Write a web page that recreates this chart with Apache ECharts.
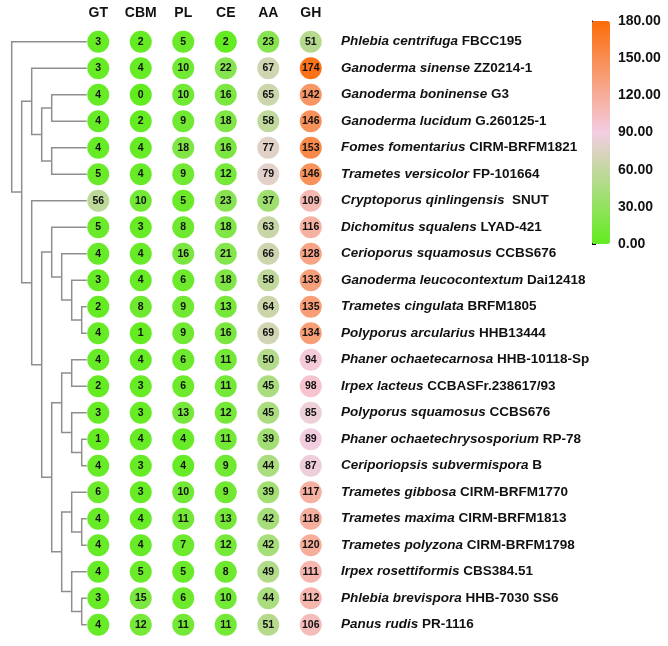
<!DOCTYPE html>
<html><head><meta charset="utf-8">
<script src="https://cdn.jsdelivr.net/npm/echarts@6/dist/echarts.min.js"></script>
<style>html,body{margin:0;padding:0;background:#fff}#c{width:668px;height:646px}</style>
</head><body><div id="c"></div>
<script>
// ---- data ----
const columns = ['GT','CBM','PL','CE','AA','GH'];
const species = ['Phlebia centrifuga','Ganoderma sinense','Ganoderma boninense','Ganoderma lucidum','Fomes fomentarius','Trametes versicolor','Cryptoporus qinlingensis','Dichomitus squalens','Cerioporus squamosus','Ganoderma leucocontextum','Trametes cingulata','Polyporus arcularius','Phaner ochaetecarnosa','Irpex lacteus','Polyporus squamosus','Phaner ochaetechrysosporium','Ceriporiopsis subvermispora','Trametes gibbosa','Trametes maxima','Trametes polyzona','Irpex rosettiformis','Phlebia brevispora','Panus rudis'];
const strains = ['FBCC195','ZZ0214-1','G3','G.260125-1','CIRM-BRFM1821','FP-101664',' SNUT','LYAD-421','CCBS676','Dai12418','BRFM1805','HHB13444','HHB-10118-Sp','CCBASFr.238617/93','CCBS676','RP-78','B','CIRM-BRFM1770','CIRM-BRFM1813','CIRM-BRFM1798','CBS384.51','HHB-7030 SS6','PR-1116'];
const GT  = [3,3,4,4,4,5,56,5,4,3,2,4,4,2,3,1,4,6,4,4,4,3,4];
const CBM = [2,4,0,2,4,4,10,3,4,4,8,1,4,3,3,4,3,3,4,4,5,15,12];
const PL  = [5,10,10,9,18,9,5,8,16,6,9,9,6,6,13,4,4,10,11,7,5,6,11];
const CE  = [2,22,16,18,16,12,23,18,21,18,13,16,11,11,12,11,9,9,13,12,8,10,11];
const AA  = [23,67,65,58,77,79,37,63,66,58,64,69,50,45,45,39,44,39,42,42,49,44,51];
const GH  = [51,174,142,146,153,146,109,116,128,133,135,134,94,98,85,89,87,117,118,120,111,112,106];
// dendrogram topology (leaf = row index)
const tree = [0, [[1, [[2,3],[4,5]]], [6, [[7,[8,[9,[10,11]]]], [[[12,13],[14,[15,16]]], [[17,[18,19]],[20,[21,22]]]]]]]];
const scaleMin = 0, scaleMax = 180, scaleStep = 30;

// ---- build ----
const values = [GT, CBM, PL, CE, AA, GH];
const pts = [];
values.forEach((arr, ci) => arr.forEach((v, ri) => pts.push([ci, ri, v])));

const DEPTH_MAX = 7.5;
const segs = [];
function walk(node, depth) {
  if (typeof node === 'number') return node;
  const ys = node.map(ch => walk(ch, depth + 1));
  const xs = node.map(ch => typeof ch === 'number' ? DEPTH_MAX : depth + 1);
  segs.push({coords: [[xs[0], ys[0]], [depth, ys[0]], [depth, ys[1]], [xs[1], ys[1]]]});
  return (ys[0] + ys[1]) / 2;
}
walk(tree, 0);

const FONT = "'Liberation Sans', Arial, sans-serif";
const chart = echarts.init(document.getElementById('c'), null, {renderer: 'canvas'});
chart.setOption({
  animation: false,
  backgroundColor: '#fff',
  textStyle: {fontFamily: FONT},
  grid: [
    {left: 77, top: 28.45, width: 255, height: 609.5},
    {left: 11.7, top: 28.45, width: 75, height: 609.5},
    {left: 592, top: 21, width: 18, height: 223}
  ],
  xAxis: [
    {gridIndex: 0, type: 'category', data: columns, position: 'top',
     axisLine: {show: false}, axisTick: {show: false}, splitLine: {show: false},
     axisLabel: {margin: 8, fontSize: 14, fontWeight: 'bold', color: '#111', fontFamily: FONT}},
    {gridIndex: 1, type: 'value', min: 0, max: DEPTH_MAX, show: false},
    {gridIndex: 2, type: 'value', show: false}
  ],
  yAxis: [
    {gridIndex: 0, type: 'category', data: species, inverse: true, position: 'right',
     axisLine: {show: false}, axisTick: {show: false}, splitLine: {show: false},
     axisLabel: {margin: 9, align: 'left', fontSize: 13.5, color: '#111', fontFamily: FONT,
       formatter: (v, i) => '{i|' + v + '} {n|' + strains[i] + '}',
       rich: {
         i: {fontStyle: 'italic', fontWeight: 'bold', fontSize: 13.5, color: '#111', fontFamily: FONT},
         n: {fontWeight: 'bold', fontSize: 13.5, color: '#111', fontFamily: FONT}
       }}},
    {gridIndex: 1, type: 'value', min: -0.5, max: species.length - 0.5, inverse: true, show: false},
    {gridIndex: 2, type: 'value', min: scaleMin, max: scaleMax, interval: scaleStep, position: 'right',
     axisLine: {show: true, lineStyle: {color: '#000', width: 1}},
     axisTick: {show: true, length: 4, lineStyle: {color: '#000'}},
     splitLine: {show: false},
     axisLabel: {margin: 8, fontSize: 14, fontWeight: 'bold', color: '#111', fontFamily: FONT,
       formatter: v => v.toFixed(2)}}
  ],
  visualMap: {
    type: 'continuous', min: scaleMin, max: scaleMax, seriesIndex: 0, dimension: 2,
    calculable: false, hoverLink: false, orient: 'vertical',
    left: 592, top: 21, itemWidth: 18, itemHeight: 223, padding: 0, text: null,
    inRange: {color: ['#62ec1e', '#f4cde2', '#fb6c08']}
  },
  series: [
    {type: 'scatter', xAxisIndex: 0, yAxisIndex: 0, data: pts, symbolSize: 22, silent: true,
     itemStyle: {opacity: 1},
     label: {show: true, position: 'inside', formatter: p => p.value[2],
       fontSize: 10.5, fontWeight: 'bold', color: '#111', fontFamily: FONT}},
    {type: 'lines', coordinateSystem: 'cartesian2d', xAxisIndex: 1, yAxisIndex: 1, polyline: true,
     silent: true, data: segs, lineStyle: {color: '#8e8e8e', width: 1.5, opacity: 1}}
  ]
});
</script></body></html>
